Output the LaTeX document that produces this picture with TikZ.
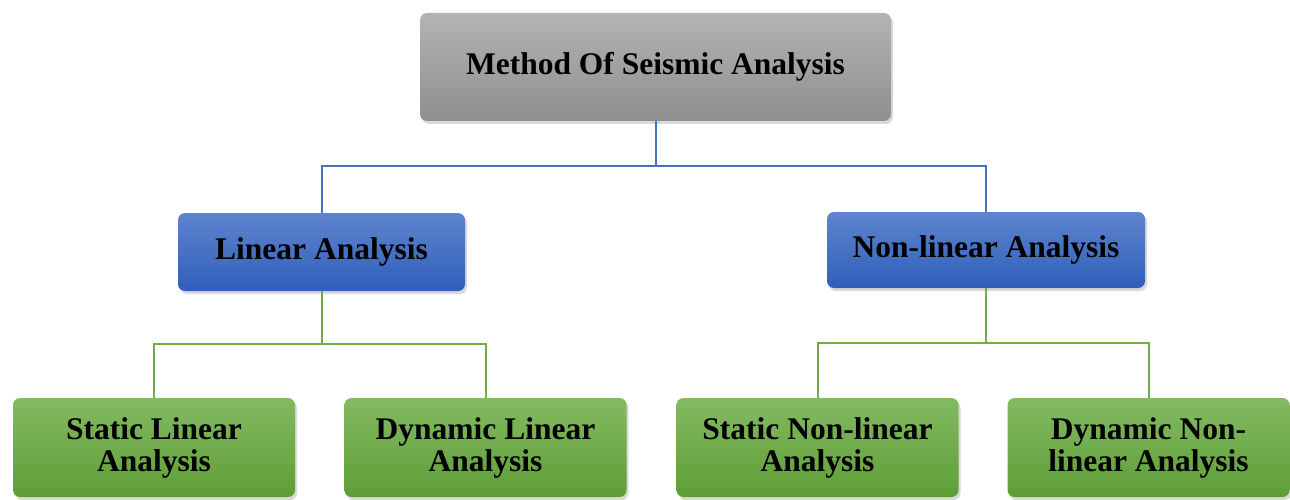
\documentclass[tikz,border=0pt]{standalone}
\usepackage{fontspec}
\setmainfont{Liberation Serif}
\usetikzlibrary{positioning,shadows}
\definecolor{rootTop}{HTML}{B3B3B3}
\definecolor{rootBot}{HTML}{8F8F8F}
\definecolor{blueTop}{HTML}{5E84CE}
\definecolor{blueBot}{HTML}{2F5FBA}
\definecolor{greenTop}{HTML}{84BA62}
\definecolor{greenBot}{HTML}{5E9E36}
\definecolor{blueLine}{HTML}{4472C4}
\definecolor{greenLine}{HTML}{70AD47}
\tikzset{
  box/.style = {
    rectangle, rounded corners=7pt, align=center, inner sep=0pt,
    font=\fontsize{31.5}{32}\selectfont\bfseries,
    drop shadow={shadow xshift=2pt, shadow yshift=-3pt, opacity=0.3}
  },
  rootbox/.style = {box, top color=rootTop, bottom color=rootBot,
    minimum width=471pt, minimum height=108pt},
  kindbox/.style = {box, top color=blueTop, bottom color=blueBot,
    minimum height=78pt},
  methodbox/.style = {box, top color=greenTop, bottom color=greenBot,
    minimum width=282pt, minimum height=99pt},
  blueconn/.style = {draw=blueLine, line width=2pt},
  greenconn/.style = {draw=greenLine, line width=2pt}
}
\begin{document}
\begin{tikzpicture}[x=1pt, y=-1pt]
    \useasboundingbox (0,0) rectangle (1290,500);

    \node[rootbox] (root) at (655.5,67) {Method Of Seismic Analysis};

    \node[kindbox, minimum width=287pt] (lin) at (321.5,252) {Linear Analysis};
    \node[kindbox, minimum width=318pt, minimum height=76pt] (nonlin) at (986,250) {Non-linear Analysis};

    \node[methodbox] (sl) at (154,447.5) {Static Linear\\Analysis};
    \node[methodbox] (dl) at (485.5,447.5) {Dynamic Linear\\Analysis};
    \node[methodbox] (snl) at (817.5,447.5) {Static Non-linear\\Analysis};
    \node[methodbox] (dnl) at (1148.5,447.5) {Dynamic Non-\\linear Analysis};

    \coordinate (bus) at (655.5,166);
    \coordinate (linbus) at (321.5,344);
    \coordinate (nonbus) at (986,343);

    \draw[blueconn] (root.south) -- (bus);
    \draw[blueconn] (lin.north) |- (bus) -| (nonlin.north);

    \draw[greenconn] (lin.south) -- (linbus);
    \draw[greenconn] (sl.north) |- (linbus) -| (dl.north);
    \draw[greenconn] (nonlin.south) -- (nonbus);
    \draw[greenconn] (snl.north) |- (nonbus) -| (dnl.north);
\end{tikzpicture}
\end{document}
